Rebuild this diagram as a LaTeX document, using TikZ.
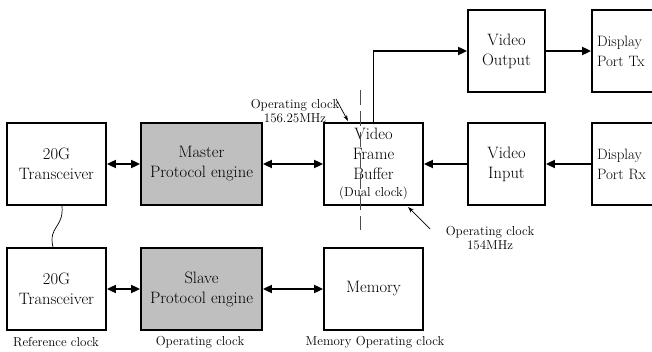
\documentclass[tikz,border=0pt]{standalone}
\usetikzlibrary{arrows.meta}
\begin{document}
\begin{tikzpicture}[x=1pt,y=-1pt,
  blk/.style={draw, line width=1.8pt, minimum height=82pt, inner sep=0pt,
    align=center, font=\fontsize{16.5}{20}\selectfont},
  wide/.style={blk, minimum width=99pt},
  narrow/.style={blk, minimum width=77pt},
  port/.style={narrow, align=left, text width=67pt, font=\fontsize{15}{20}\selectfont},
  engine/.style={blk, minimum width=121pt, fill=black!25},
  link/.style={line width=1.8pt, -{Triangle[length=9pt,width=8pt]}},
  biLink/.style={line width=1.8pt, {Triangle[length=9pt,width=8pt]}-{Triangle[length=9pt,width=8pt]}},
  note/.style={align=center, font=\fontsize{13}{14}\selectfont, inner sep=0pt},
  pointer/.style={line width=0.7pt, -{Stealth[length=6pt,width=4pt]}}]
\clip (0,0) rectangle (652,352);
\useasboundingbox (0,0) rectangle (652,352);

% upper row
\node[wide]   (tx1)  at (56.5,164)  {20G\\Transceiver};
\node[engine] (mpe)  at (201.5,164) {Master\\Protocol engine};
\node[wide]   (vfb)  at (373.5,164) {Video\\Frame\\Buffer\\[-3pt]{\fontsize{13}{14}\selectfont(Dual clock)}};
\node[narrow] (vin)  at (506.5,164) {Video\\Input};
\node[port]   (dprx) at (630.5,164) {Display\\Port Rx};
\node[narrow] (vout) at (506.5,51)  {Video\\Output};
\node[port]   (dptx) at (630.5,51)  {Display\\Port Tx};

% lower row
\node[wide]   (tx2)  at (56.5,289)  {20G\\Transceiver};
\node[engine] (spe)  at (201.5,289) {Slave\\Protocol engine};
\node[wide]   (mem)  at (373.5,289) {Memory};

% data paths
\draw[biLink] (tx1.east) -- (mpe.west);
\draw[biLink] (mpe.east) -- (vfb.west);
\draw[link] (vin.west) -- (vfb.east);
\draw[link] (dprx.west) -- (vin.east);
\draw[link] (vfb.north) |- (vout.west);
\draw[link] (vout.east) -- (dptx.west);
\draw[biLink] (tx2.east) -- (spe.west);
\draw[biLink] (spe.east) -- (mem.west);

% cable between the transceivers
\draw[line width=0.7pt] (tx1.south -| 62,0) .. controls (64,228) and (48,226) .. (tx2.north -| 53,0);

% clock domain boundary
\coordinate (cdTop) at (360,90);
\coordinate (cdBot) at (360,230);
\draw[line width=1pt, black!70, dash pattern=on 15pt off 6pt] (cdTop) -- (cdBot);

% clock annotations
\node[note] (clkA) at (295,111) {Operating clock\\156.25MHz};
\coordinate (clkAfrom) at (336,99);
\coordinate (clkAto) at (348,121);
\draw[pointer] (clkAfrom) -- (clkAto);

\node[note] (clkB) at (490,238) {Operating clock\\154MHz};
\coordinate (clkBfrom) at (430,229);
\coordinate (clkBto) at (408,207);
\draw[pointer] (clkBfrom) -- (clkBto);

\node[note] (refclk) at (56,342)  {Reference clock};
\node[note] (opclk)  at (200,342) {Operating clock};
\node[note] (memclk) at (375,342) {Memory Operating clock};
\end{tikzpicture}
\end{document}
